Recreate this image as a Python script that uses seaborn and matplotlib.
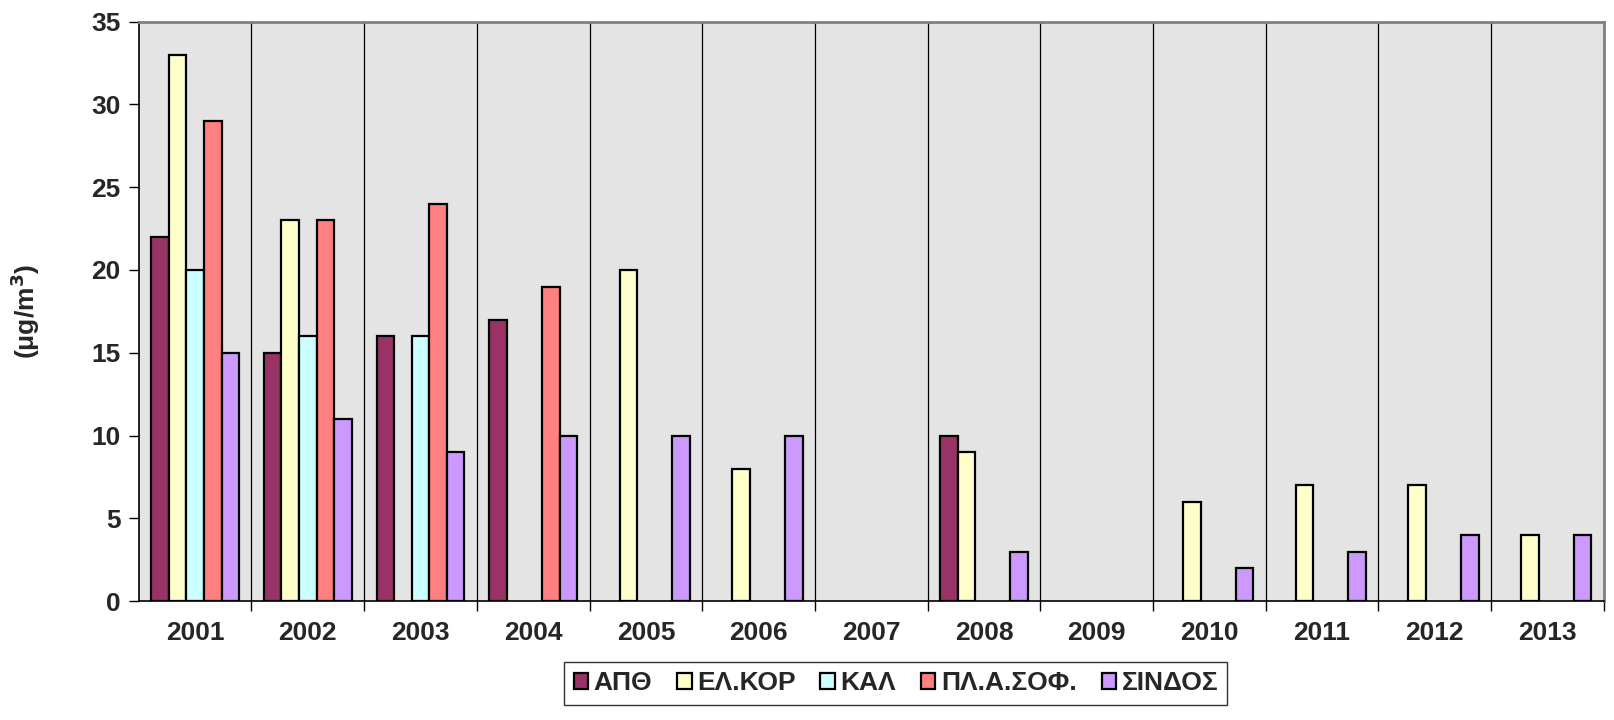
import numpy as np
import pandas as pd
import matplotlib
matplotlib.use("Agg")
import matplotlib.pyplot as plt
import seaborn as sns

years = ['2001', '2002', '2003', '2004', '2005', '2006', '2007',
         '2008', '2009', '2010', '2011', '2012', '2013']
stations = ['ΑΠΘ', 'ΕΛ.ΚΟΡ', 'ΚΑΛ', 'ΠΛ.Α.ΣΟΦ.', 'ΣΙΝΔΟΣ']
nan = np.nan
apth = [22, 15, 16, 17, nan, nan, nan, 10, nan, nan, nan, nan, nan]
elkor = [33, 23, nan, nan, 20, 8, nan, 9, nan, 6, 7, 7, 4]
kal = [20, 16, 16, nan, nan, nan, nan, nan, nan, nan, nan, nan, nan]
plasof = [29, 23, 24, 19, nan, nan, nan, nan, nan, nan, nan, nan, nan]
sindos = [15, 11, 9, 10, 10, 10, nan, 3, nan, 2, 3, 4, 4]
colors = ['#993366', '#FFFFCC', '#CCFFFF', '#FF8080', '#CC99FF']

rows = []
for name, vals in zip(stations, [apth, elkor, kal, plasof, sindos]):
    for y, v in zip(years, vals):
        rows.append({'year': y, 'station': name, 'value': v})
df = pd.DataFrame(rows)

sns.set_style("white")
plt.rcParams['font.family'] = ['Liberation Sans', 'DejaVu Sans']
plt.rcParams['font.weight'] = 'bold'

fig = plt.figure(figsize=(16.14, 7.2), dpi=100)
ax = fig.add_axes([0.086, 0.165, 0.9077, 0.805])
ax.set_facecolor('#e4e4e4')

sns.barplot(data=df.dropna(), x='year', y='value', hue='station',
            order=years, hue_order=stations, palette=colors, saturation=1,
            width=0.78, edgecolor='black', linewidth=1.6, ax=ax)

ax.set_ylim(0, 35)
ax.set_xlim(-0.5, len(years) - 0.5)
ax.set_yticks(range(0, 36, 5))
ax.set_xticks(np.arange(len(years)) + 0.5, minor=True)
ax.tick_params(axis='x', which='major', length=0, pad=14, labelsize=19)
ax.tick_params(axis='x', which='minor', length=7, width=1, color='black', direction='out', bottom=True)
ax.tick_params(axis='y', length=7, width=1, color='black', direction='out', labelsize=19, pad=6, left=True)
for t in ax.get_xticklabels() + ax.get_yticklabels():
    t.set_fontweight('bold')
ax.grid(which='minor', axis='x', color='black', linewidth=0.9)
ax.set_axisbelow(True)

ax.set_xlabel('')
ax.set_ylabel('(μg/m$^\\mathbf{3}$)', fontsize=19, fontweight='bold')
ax.yaxis.set_label_coords(-0.066, 0.5)

for side in ['left', 'bottom']:
    ax.spines[side].set_color('black')
    ax.spines[side].set_linewidth(1.2)
for side in ['top', 'right']:
    ax.spines[side].set_color('#808080')
    ax.spines[side].set_linewidth(2)

ax.legend_.remove()
handles, labels = ax.get_legend_handles_labels()
leg = fig.legend(handles, labels, loc='center', bbox_to_anchor=(0.555, 0.0507),
                 ncol=5, frameon=True, fancybox=False, edgecolor='black',
                 prop={'size': 19, 'weight': 'bold'}, handlelength=0.55,
                 handleheight=0.55, handletextpad=0.2, columnspacing=0.95,
                 borderpad=0.35)
leg.get_frame().set_linewidth(1.0)

fig.savefig('out.png', dpi=100)
